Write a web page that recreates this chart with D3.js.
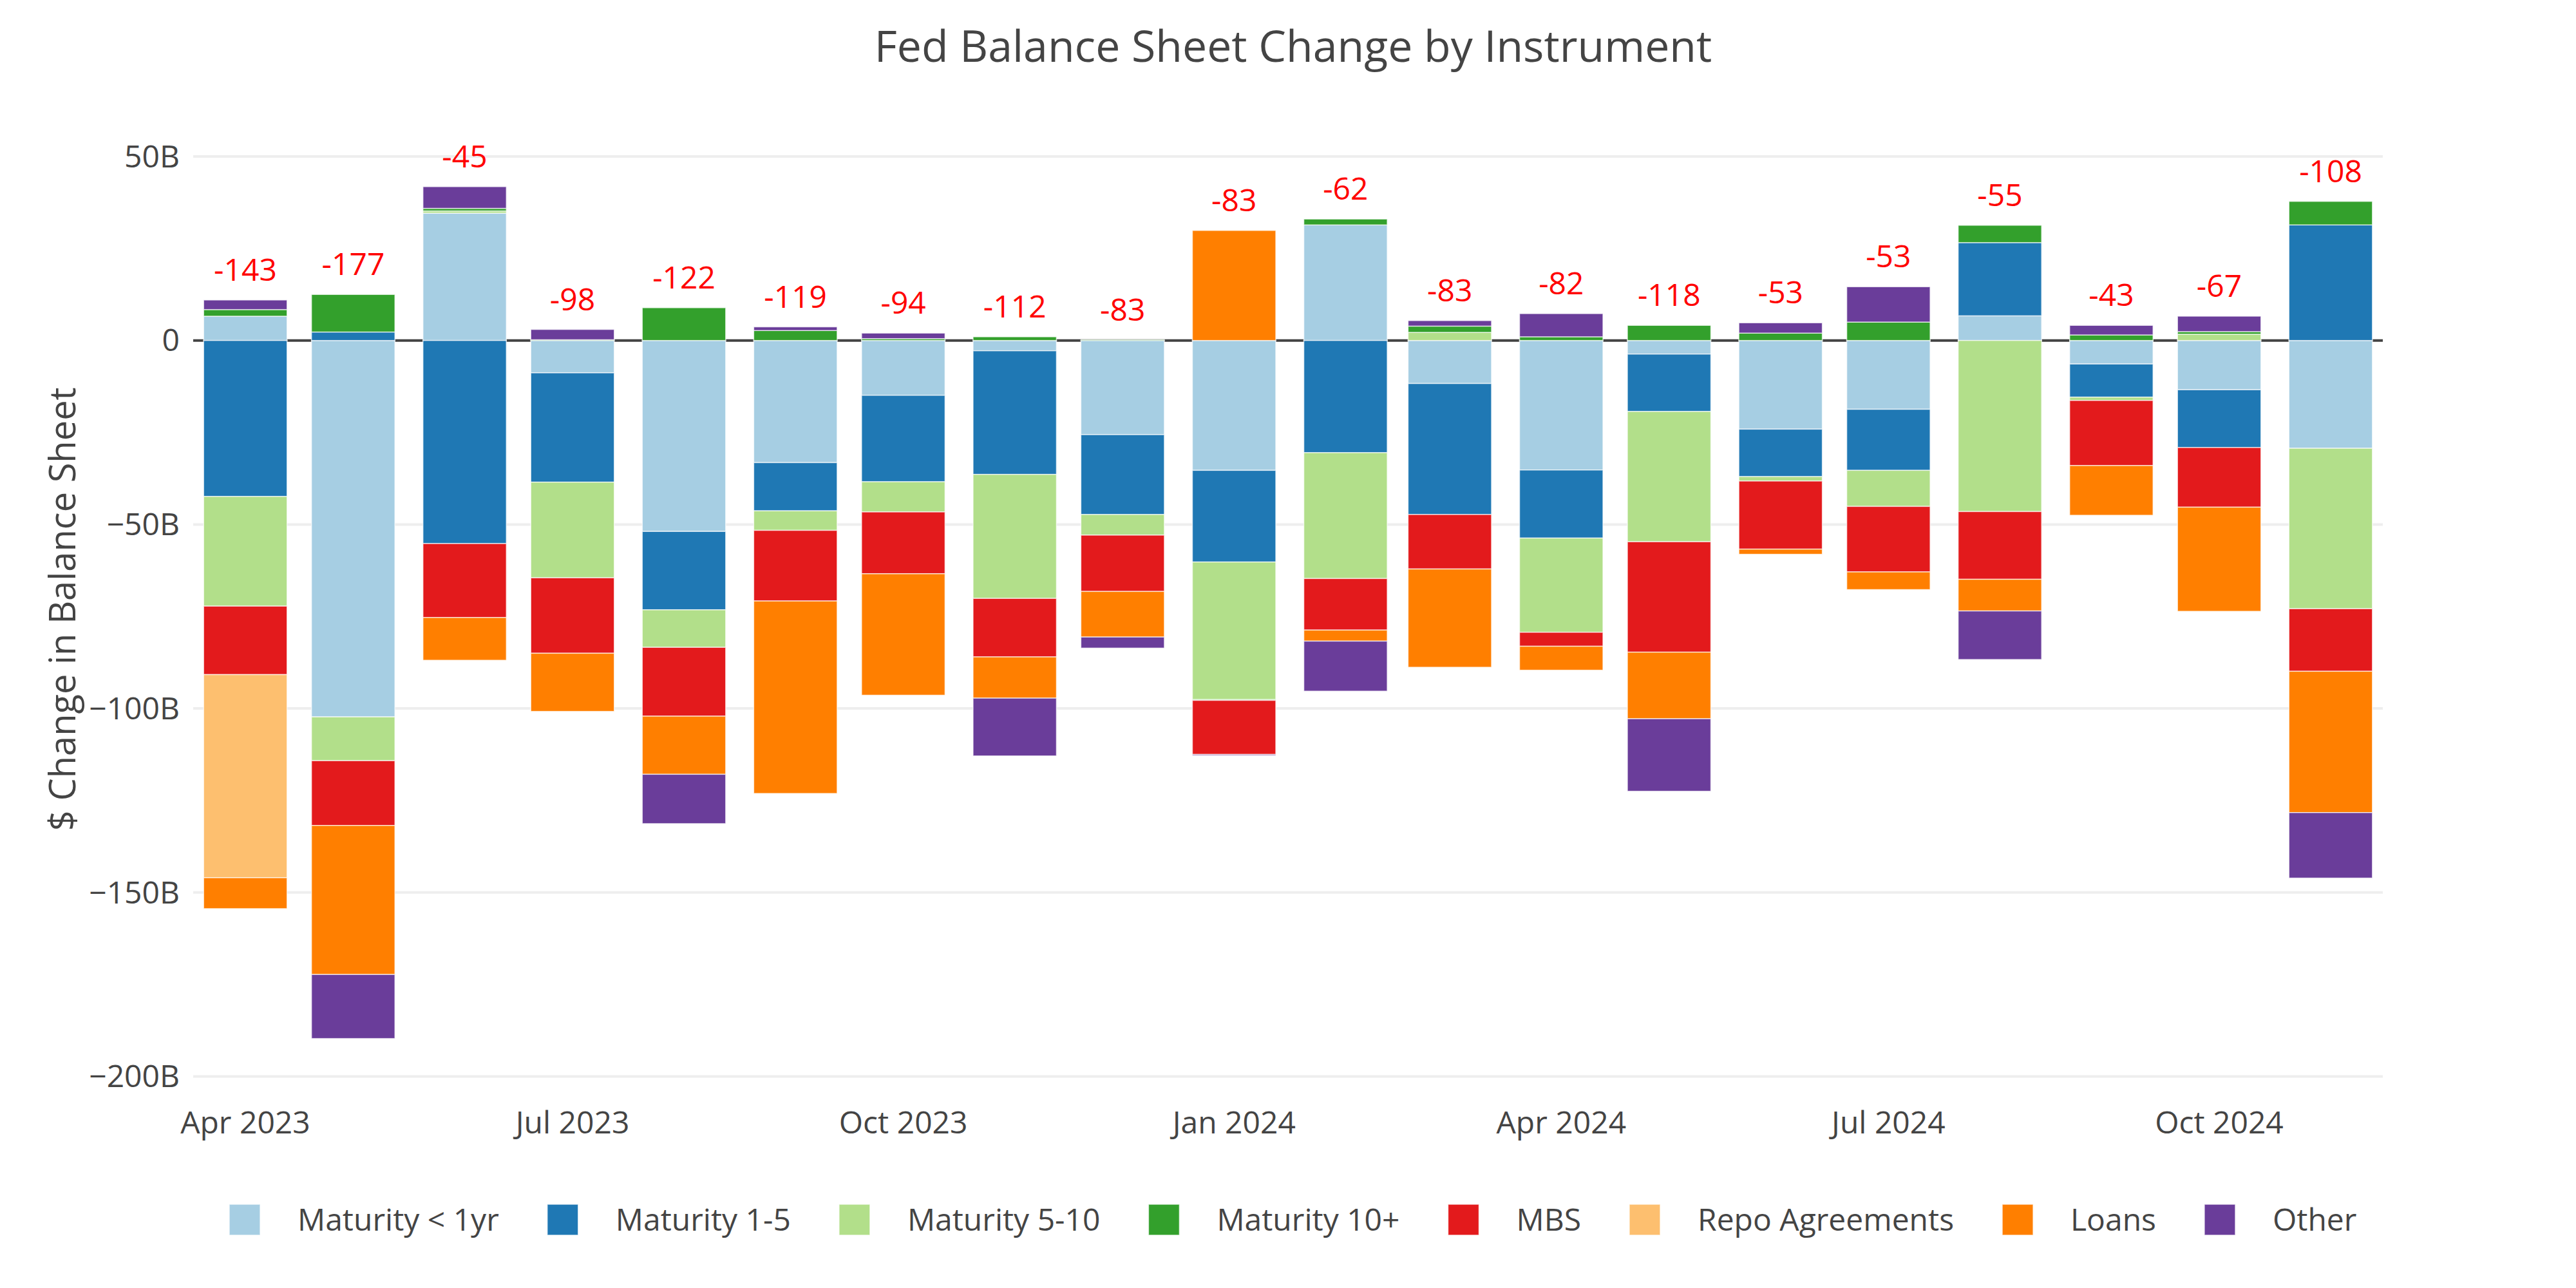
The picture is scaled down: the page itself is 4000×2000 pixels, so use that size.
<!DOCTYPE html>
<html>
<head>
<meta charset="utf-8">
<script src="https://cdn.jsdelivr.net/npm/d3@7"></script>
<style>
    body { margin: 0; background: #fff; }
</style>
</head>
<body>
<svg id="chart" width="4000" height="2000"></svg>
<script>
// Months (first of month), one bar each
var months = ["2023-04-01", "2023-05-01", "2023-06-01", "2023-07-01", "2023-08-01", "2023-09-01",
    "2023-10-01", "2023-11-01", "2023-12-01", "2024-01-01", "2024-02-01", "2024-03-01",
    "2024-04-01", "2024-05-01", "2024-06-01", "2024-07-01", "2024-08-01", "2024-09-01",
    "2024-10-01", "2024-11-01"];

// Monthly change by instrument, $B
var maturityUnder1 = [6.6, -102.3, 34.6, -8.8, -51.9, -33.2, -14.9, -2.8, -25.6, -35.3,
    31.4, -11.7, -35.2, -3.7, -24.1, -18.7, 6.7, -6.4, -13.4, -29.3];
var maturity1to5 = [-42.4, 2.3, -55.2, -29.7, -21.3, -13.1, -23.5, -33.6, -21.7, -24.9,
    -30.5, -35.6, -18.5, -15.6, -12.9, -16.6, 19.9, -9.0, -15.7, 31.4];
var maturity5to10 = [-29.8, -11.9, 0.6, -26.0, -10.2, -5.3, -8.2, -33.7, -5.6, -37.4,
    -34.2, 2.2, -25.6, -35.4, -1.2, -9.8, -46.5, -0.9, 1.7, -43.6];
var maturity10plus = [1.8, 10.2, 0.7, 0.2, 8.9, 2.7, 0.5, 1.0, 0.2, -0.2,
    1.6, 1.7, 1.0, 4.1, 2.0, 5.0, 4.7, 1.5, 0.7, 6.4];
var mbs = [-18.6, -17.6, -20.1, -20.5, -18.7, -19.2, -16.8, -15.9, -15.3, -14.7,
    -14.0, -14.8, -3.8, -30.0, -18.5, -17.8, -18.4, -17.7, -16.2, -17.0];
var repoAgreements = [-55.2, 0, 0, 0, 0, 0, 0, 0, 0, 0,
    0, 0, 0, 0, 0, 0, 0, 0, 0, 0];
var loans = [-8.4, -40.5, -11.6, -15.8, -15.8, -52.3, -33.0, -11.2, -12.4, 29.9,
    -3.0, -26.7, -6.5, -18.1, -1.4, -4.8, -8.6, -13.5, -28.3, -38.4];
var other = [2.6, -17.4, 5.9, 2.8, -13.4, 1.0, 1.5, -15.7, -3.0, -0.3,
    -13.6, 1.5, 6.3, -19.7, 2.8, 9.6, -13.2, 2.6, 4.2, -17.8];

var seriesNames = ["Maturity < 1yr", "Maturity 1-5", "Maturity 5-10", "Maturity 10+",
    "MBS", "Repo Agreements", "Loans", "Other"];
var seriesColors = ["#a6cee3", "#1f78b4", "#b2df8a", "#33a02c", "#e31a1c", "#fdbf6f", "#ff7f00", "#6a3d9a"];

// Axis ticks
var xTickMonths = ["2023-04-01", "2023-07-01", "2023-10-01", "2024-01-01", "2024-04-01", "2024-07-01", "2024-10-01"];
var yTickValues = [50, 0, -50, -100, -150, -200];

var series = [maturityUnder1, maturity1to5, maturity5to10, maturity10plus, mbs, repoAgreements, loans, other];

var svg = d3.select("#chart"),
    font = "'Open Sans', verdana, arial, sans-serif",
    left = 300, right = 3700;

var parse = d3.utcParse("%Y-%m-%d");
var dates = months.map(parse);

// Half a (29 day) slot of padding on each side, like plotly's autorange
var x = d3.scaleUtc()
    .domain([d3.utcHour.offset(dates[0], -14.5 * 24), d3.utcHour.offset(dates[dates.length - 1], 14.5 * 24)])
    .range([left, right]);
var barWidth = 0.8 * (x(d3.utcDay.offset(dates[0], 29)) - x(dates[0]));

var y = d3.scaleLinear()
    .domain([-201, 55])
    .range([1677.2, 214.4]);

// Gridlines
svg.append("g")
    .selectAll("line")
    .data(yTickValues.filter(function (d) { return d !== 0; }))
    .enter().append("line")
    .attr("x1", left).attr("x2", right)
    .attr("y1", function (d) { return y(d); })
    .attr("y2", function (d) { return y(d); })
    .attr("stroke", "#eee")
    .attr("stroke-width", 4);

// Zero line sits under the bars
svg.append("line")
    .attr("x1", left).attr("x2", right)
    .attr("y1", y(0)).attr("y2", y(0))
    .attr("stroke", "#444")
    .attr("stroke-width", 4);

// Relative stacking: positives go up, negatives go down, in trace order
var segments = [], tops = [], nets = [];
dates.forEach(function (date, i) {
    var pos = 0, neg = 0;
    series.forEach(function (s, k) {
        var v = s[i];
        if (v >= 0) { segments.push({ date: date, k: k, y0: pos, y1: pos + v }); pos += v; }
        else { segments.push({ date: date, k: k, y0: neg + v, y1: neg }); neg += v; }
    });
    tops.push(pos);
    nets.push(pos + neg);
});

svg.append("g")
    .selectAll("rect")
    .data(segments.filter(function (d) { return d.y1 - d.y0 > 0; }))
    .enter().append("rect")
    .attr("x", function (d) { return x(d.date) - barWidth / 2; })
    .attr("width", barWidth)
    .attr("y", function (d) { return y(d.y1); })
    .attr("height", function (d) { return y(d.y0) - y(d.y1); })
    .attr("fill", function (d) { return seriesColors[d.k]; })
    .attr("stroke", "#fff")
    .attr("stroke-width", 1.5)
    .attr("stroke-opacity", 0.7);

// Net change labels above each bar
svg.append("g")
    .selectAll("text")
    .data(dates)
    .enter().append("text")
    .attr("x", function (d) { return x(d); })
    .attr("y", function (d, i) { return y(tops[i]) - 30; })
    .attr("text-anchor", "middle")
    .attr("font-family", font)
    .attr("font-size", 48)
    .attr("fill", "#ff0000")
    .text(function (d, i) { return String(Math.round(nets[i])); });

// Y tick labels
svg.append("g")
    .selectAll("text")
    .data(yTickValues)
    .enter().append("text")
    .attr("x", left - 21)
    .attr("y", function (d) { return y(d); })
    .attr("dy", "0.35em")
    .attr("text-anchor", "end")
    .attr("font-family", font)
    .attr("font-size", 48)
    .attr("fill", "#444")
    .text(function (d) {
        if (d === 0) return "0";
        return (d < 0 ? "\u2212" + Math.abs(d) : d) + "B";
    });

// X tick labels
var fmt = d3.utcFormat("%b %Y");
svg.append("g")
    .selectAll("text")
    .data(xTickMonths.map(parse))
    .enter().append("text")
    .attr("x", function (d) { return x(d); })
    .attr("y", 1760)
    .attr("text-anchor", "middle")
    .attr("font-family", font)
    .attr("font-size", 48)
    .attr("fill", "#444")
    .text(function (d) { return fmt(d); });

// Titles
svg.append("text")
    .attr("x", 2008)
    .attr("y", 96)
    .attr("text-anchor", "middle")
    .attr("font-family", font)
    .attr("font-size", 68)
    .attr("fill", "#444")
    .text("Fed Balance Sheet Change by Instrument");

svg.append("text")
    .attr("transform", "translate(117," + ((y.range()[0] + y.range()[1]) / 2) + ") rotate(-90)")
    .attr("text-anchor", "middle")
    .attr("font-family", font)
    .attr("font-size", 56)
    .attr("fill", "#444")
    .text("$ Change in Balance Sheet");

// Horizontal legend under the plot
var legend = svg.append("g").attr("transform", "translate(380,0)");
var items = legend.selectAll("g")
    .data(seriesNames)
    .enter().append("g");

items.append("rect")
    .attr("x", -24).attr("y", 1894 - 24)
    .attr("width", 48).attr("height", 48)
    .attr("fill", function (d, i) { return seriesColors[i]; })
    .attr("stroke", "#fff")
    .attr("stroke-width", 1.5)
    .attr("stroke-opacity", 0.7);

items.append("text")
    .attr("x", 82)
    .attr("y", 1894)
    .attr("dy", "0.35em")
    .attr("font-family", font)
    .attr("font-size", 48)
    .attr("fill", "#444")
    .text(function (d) { return d; });

var cx = 0;
items.each(function (d, i) {
    var w = d3.select(this).select("text").node().getComputedTextLength();
    d3.select(this).attr("transform", "translate(" + cx + ",0)");
    cx += 82 + w + 99;
});
</script>
</body>
</html>
